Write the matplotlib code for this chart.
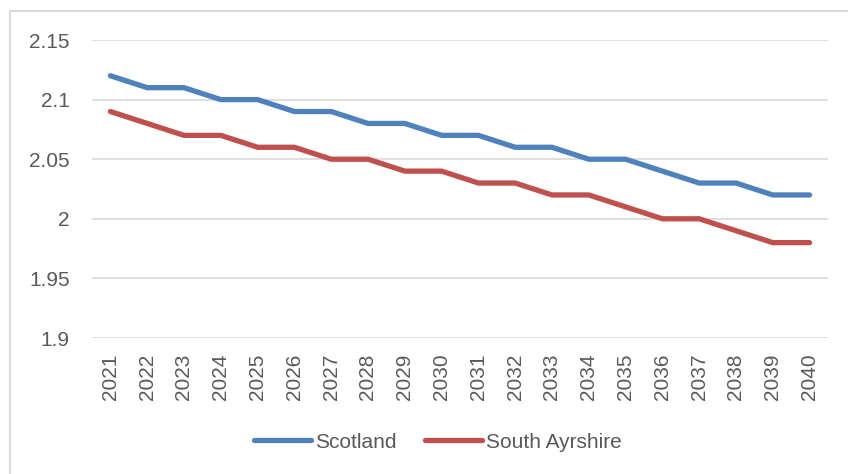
import matplotlib
matplotlib.use("Agg")
import matplotlib.pyplot as plt
from matplotlib.patches import Rectangle

years = [str(y) for y in range(2021, 2041)]
scotland = [2.12, 2.11, 2.11, 2.10, 2.10, 2.09, 2.09, 2.08, 2.08, 2.07,
            2.07, 2.06, 2.06, 2.05, 2.05, 2.04, 2.03, 2.03, 2.02, 2.02]
south_ayrshire = [2.09, 2.08, 2.07, 2.07, 2.06, 2.06, 2.05, 2.05, 2.04, 2.04,
                  2.03, 2.03, 2.02, 2.02, 2.01, 2.00, 2.00, 1.99, 1.98, 1.98]
yticks = [1.9, 1.95, 2.0, 2.05, 2.1, 2.15]
ytick_labels = ["1.9", "1.95", "2", "2.05", "2.1", "2.15"]

plt.rcParams['font.family'] = ['Liberation Sans', 'DejaVu Sans']
W, H = 848, 474
fig = plt.figure(figsize=(W/100, H/100), dpi=100)
fig.patch.set_facecolor('white')

# outer chart border (partly cropped)
fig.patches.append(Rectangle((10/W, -0.1), 1.2, 1 - 11/H + 0.1, transform=fig.transFigure,
                             fill=False, edgecolor='#d9d9d9', linewidth=1.5))

ax = fig.add_axes([92/W, 1 - 338/H, (828-92)/W, (338-40)/H])
x = list(range(len(years)))
ax.plot(x, scotland, color='#4f81bd', lw=3.8, solid_capstyle='round', solid_joinstyle='round', label='Scotland')
ax.plot(x, south_ayrshire, color='#c0504d', lw=3.8, solid_capstyle='round', solid_joinstyle='round', label='South Ayrshire')

ax.set_xlim(-0.5, len(years) - 0.5)
ax.set_ylim(1.9, 2.15)
ax.set_yticks(yticks)
ax.set_yticklabels(ytick_labels)
ax.set_xticks(x)
ax.set_xticklabels(years, rotation=90)
ax.tick_params(axis='both', length=0, labelsize=15, labelcolor='#595959')
ax.tick_params(axis='y', pad=16)
ax.tick_params(axis='x', pad=11)
ax.grid(axis='y', color='#d9d9d9', lw=1.2)
ax.set_axisbelow(True)
for s in ax.spines.values():
    s.set_visible(False)

leg = fig.legend(loc='center', bbox_to_anchor=(438/W, 1 - 442/H), ncol=2, frameon=False,
                 fontsize=15, handlelength=2.7, handletextpad=0.2, columnspacing=1.4)
for t in leg.get_texts():
    t.set_color('#595959')

fig.savefig('out.png', dpi=100, facecolor='white')
